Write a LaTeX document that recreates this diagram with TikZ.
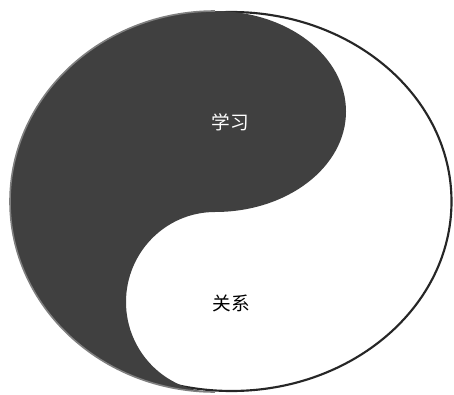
\documentclass[tikz,border=0pt]{standalone}
\usepackage{fontspec}
\newfontfamily\cjk{Noto Sans CJK SC}
\definecolor{yinDark}{HTML}{404040}
\definecolor{yinEdge}{HTML}{7F7F7F}
\definecolor{rimBlack}{HTML}{262626}

\begin{document}
\begin{tikzpicture}[x=0.75pt, y=0.75pt, font=\cjk\fontsize{14}{16}\selectfont]
    \useasboundingbox (0,0) rectangle (454,394);
    % outer rim
    \draw[rimBlack, line width=1.6pt, fill=white] (231.5,192.5) ellipse [x radius=220, y radius=189.5];
    % dark half with the S curve
    \fill[yinDark] (215,2) arc[start angle=-90, end angle=-270, x radius=205, y radius=190.5]
        arc[start angle=90, end angle=-90, x radius=131, y radius=100.5]
        arc[start angle=90, end angle=270, x radius=89, y radius=90] -- cycle;
    \draw[yinEdge, line width=1.2pt] (215,2) arc[start angle=-90, end angle=-270, x radius=205, y radius=190.5];
    \node[text=white] (study) at (230.5,272) {学习};
    \node[text=black] (relation) at (231,91) {关系};
  \end{tikzpicture}
\end{document}
